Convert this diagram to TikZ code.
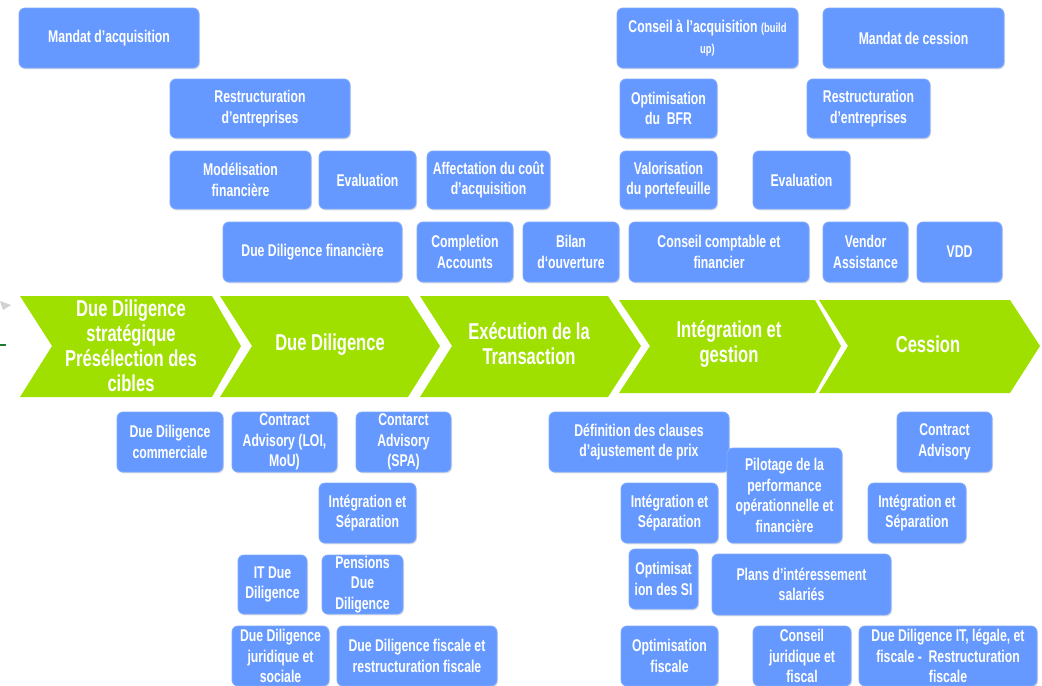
\documentclass[tikz,border=0pt]{standalone}
\usepackage{fontspec}
\setmainfont{Liberation Sans}[FakeStretch=0.72]
\usepackage{tikz}
\usetikzlibrary{shadows}
\definecolor{mabox}{HTML}{6699FF}
\definecolor{mavert}{HTML}{A0E000}
\definecolor{vertfonce}{HTML}{1E7A2E}

\tikzset{
  boite/.style={rounded corners=3pt,fill=mabox,draw=mabox!85!white,inner sep=0pt,
    minimum height=30pt,text=white,align=center,font=\bfseries\fontsize{8.5}{10.3}\selectfont,
    drop shadow={shadow xshift=0.5pt,shadow yshift=-0.7pt,fill=black!35,opacity=0.35}},
  etape/.style={fill=mavert},
  etapetexte/.style={text=white,align=center,font=\bfseries\fontsize{11.5}{12.5}\selectfont}
}

\begin{document}
\begin{tikzpicture}[x=0.5pt,y=-0.5pt]
  \useasboundingbox (0,0) rectangle (1042,685);
  % petits restes a gauche
  \fill[gray!35] (0,301) -- (11,305) -- (3,310) -- cycle;
  \draw[vertfonce,line width=1pt] (0,345) -- (6,345);

  % bandeau des etapes
  \fill[etape] (20,296) -- (212,296) -- (241,346) -- (212,397) -- (20,397) -- (52,346) -- cycle;
  \fill[etape] (220,296) -- (408,296) -- (440,346) -- (408,397) -- (220,397) -- (252,346) -- cycle;
  \fill[etape] (420,296) -- (608,296) -- (641,346) -- (608,397) -- (420,397) -- (452,346) -- cycle;
  \fill[etape] (619,300) -- (815,300) -- (841,346) -- (815,393) -- (619,393) -- (650,346) -- cycle;
  \fill[etape] (819,300) -- (1010,300) -- (1040,346) -- (1010,393) -- (819,393) -- (848,346) -- cycle;
  \node[etapetexte] (etapeun) at (131,346) {Due Diligence\\stratégique\\Présélection des\\cibles};
  \node[etapetexte] (etapedeux) at (330,345) {Due Diligence};
  \node[etapetexte] (etapetrois) at (529,344) {Exécution de la\\Transaction};
  \node[etapetexte] (etapequatre) at (729,344) {Intégration et\\gestion};
  \node[etapetexte] (etapecinq) at (928,344) {Cession};

  % au-dessus du bandeau
  \node[boite,minimum width=90pt] (mandatacq) at (109,38) {Mandat d’acquisition};
  \node[boite,minimum width=90.5pt] (conseilacq) at (707.5,38) {Conseil à l’acquisition {\fontsize{6.5}{8}\selectfont(build}\\{\fontsize{6.5}{8}\selectfont up)}};
  \node[boite,minimum width=90.5pt] (mandatcess) at (913.5,38) {Mandat de cession};
  \node[boite,minimum width=90pt,minimum height=29.5pt] (restructg) at (260,108.5) {Restructuration\\d’entreprises};
  \node[boite,minimum width=48.5pt,minimum height=29.5pt] (bfr) at (668.5,108.5) {Optimisation\\du~~BFR};
  \node[boite,minimum width=61.5pt,minimum height=29.5pt] (restructd) at (868.5,108.5) {Restructuration\\d’entreprises};
  \node[boite,minimum width=70.5pt,minimum height=29pt] (modelisation) at (240.5,180) {Modélisation\\financière};
  \node[boite,minimum width=48.5pt,minimum height=29pt] (evaluationg) at (367.5,180) {Evaluation};
  \node[boite,minimum width=61.5pt,minimum height=29pt] (affectation) at (488.5,180) {Affectation du coût\\d’acquisition};
  \node[boite,minimum width=48.5pt,minimum height=29pt] (valorisation) at (668.5,180) {Valorisation\\du portefeuille};
  \node[boite,minimum width=48.5pt,minimum height=29pt] (evaluationd) at (801.5,180) {Evaluation};
  \node[boite,minimum width=89.5pt] (ddfin) at (312.5,252) {Due Diligence financière};
  \node[boite,minimum width=48pt] (completion) at (465,252) {Completion\\Accounts};
  \node[boite,minimum width=48pt] (bilan) at (571,252) {Bilan\\d‘ouverture};
  \node[boite,minimum width=90pt] (conseilcompta) at (719,252) {Conseil comptable et\\financier};
  \node[boite,minimum width=42.5pt] (vendor) at (865.5,252) {Vendor\\Assistance};
  \node[boite,minimum width=42.5pt] (vdd) at (959.5,252) {VDD};

  % au-dessous du bandeau
  \node[boite,minimum width=53pt] (ddcomm) at (170,442) {Due Diligence\\commerciale};
  \node[boite,minimum width=52.5pt] (contratloi) at (284.5,442) {Contract\\Advisory (LOI,\\MoU)};
  \node[boite,minimum width=47.5pt] (contratspa) at (403.5,442) {Contarct\\Advisory\\(SPA)};
  \node[boite,minimum width=48.5pt] (integsepa) at (367.5,513) {Intégration et\\Séparation};
  \node[boite,minimum width=34.5pt,minimum height=29.5pt] (itdd) at (272.5,584.5) {IT Due\\Diligence};
  \node[boite,minimum width=40.5pt,minimum height=29.5pt] (pensions) at (362.5,584.5) {Pensions\\Due\\Diligence};
  \node[boite,minimum width=48.5pt] (ddjur) at (280.5,656) {Due Diligence\\juridique et\\sociale};
  \node[boite,minimum width=80pt] (ddfisc) at (417,656) {Due Diligence fiscale et\\restructuration fiscale};
  \node[boite,minimum width=90pt] (clauses) at (639,442) {Définition des clauses\\d’ajustement de prix};
  \node[boite,minimum width=57.5pt,minimum height=47.5pt] (pilotage) at (784.5,495.5) {Pilotage de la\\performance\\opérationnelle et\\financière};
  \node[boite,minimum width=47.5pt] (contratd) at (944.5,442) {Contract\\Advisory};
  \node[boite,minimum width=48.5pt] (integsepb) at (669.5,513) {Intégration et\\Séparation};
  \node[boite,minimum width=49pt] (integsepc) at (917,513) {Intégration et\\Séparation};
  \node[boite,minimum width=34.5pt] (optsi) at (663.5,579) {Optimisat\\ion des SI};
  \node[boite,minimum width=89.5pt,minimum height=30.5pt] (plans) at (801.5,584.5) {Plans d’intéressement\\salariés};
  \node[boite,minimum width=48.5pt] (optfisc) at (669.5,656) {Optimisation\\fiscale};
  \node[boite,minimum width=49pt] (conseiljur) at (802,656) {Conseil\\juridique et\\fiscal};
  \node[boite,minimum width=89pt] (ddit) at (948,656) {Due Diligence IT, légale, et\\fiscale -~~Restructuration\\fiscale};
\end{tikzpicture}
\end{document}
